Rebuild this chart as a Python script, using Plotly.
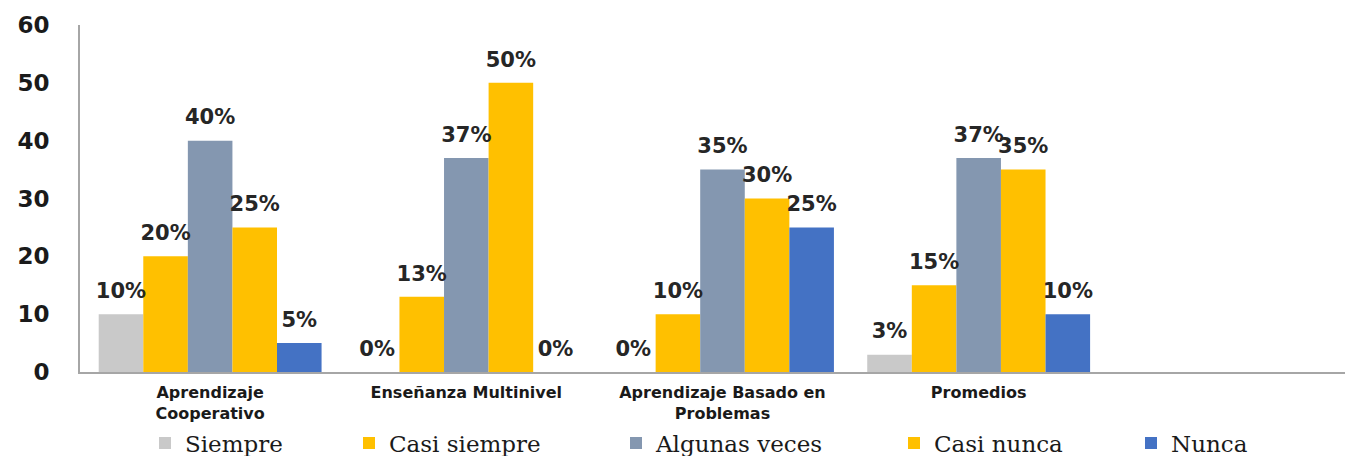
import plotly.graph_objects as go

categories = ["Aprendizaje<br>Cooperativo", "Enseñanza Multinivel",
              "Aprendizaje Basado en<br>Problemas", "Promedios", " "]
series_names = ["Siempre", "Casi siempre", "Algunas veces", "Casi nunca", "Nunca"]
siempre = [10, 0, 0, 3]
casi_siempre = [20, 13, 10, 15]
algunas_veces = [40, 37, 35, 37]
casi_nunca = [25, 50, 30, 35]
nunca = [5, 0, 25, 10]
y_ticks = [0, 10, 20, 30, 40, 50, 60]

colors = ["#c9c9c9", "#ffc000", "#8497b0", "#ffc000", "#4472c4"]
values = [siempre, casi_siempre, algunas_veces, casi_nunca, nunca]
legend_ids = ["legend", "legend2", "legend3", "legend4", "legend5"]
legend_left_px = [137, 341, 608, 886, 1123]

# figure is drawn with an 8px page margin around it
W, H = 1341, 448
L, T = 72, 17
plot_bottom, plot_right = 364, 1337
R, B = W - plot_right, H - plot_bottom
pw = plot_right - L
ph = plot_bottom - T

fig = go.Figure()
for name, vals, col, lid in zip(series_names, values, colors, legend_ids):
    fig.add_trace(go.Bar(
        x=categories[:len(vals)], y=vals, name=name,
        marker=dict(color=col, line=dict(width=0)),
        legend=lid, hoverinfo="skip",
    ))
for name, vals in zip(series_names, values):
    fig.add_trace(go.Scatter(
        x=categories[:len(vals)], y=vals, name=name + " %",
        mode="markers+text", showlegend=False,
        marker=dict(size=16, color="rgba(0,0,0,0)"),
        text=[f"{v}%" for v in vals], textposition="top center",
        textfont=dict(family="DejaVu Sans", size=21, color="#262626", weight="bold"),
        cliponaxis=False,
    ))

layout_legends = {}
for lid, px in zip(legend_ids, legend_left_px):
    layout_legends[lid] = dict(
        x=(px - L) / pw, xanchor="left", y=(plot_bottom - 435) / ph, yanchor="middle",
        orientation="h", font=dict(family="DejaVu Serif", size=23, color="#1a1a1a"),
        bgcolor="rgba(0,0,0,0)", borderwidth=0, itemclick=False,
    )

fig.update_layout(
    width=W, height=H,
    margin=dict(l=L, r=R, t=T, b=B, autoexpand=False),
    paper_bgcolor="white", plot_bgcolor="white",
    barmode="group", bargap=0.13, bargroupgap=0,
    scattermode="group", scattergap=0.13,
    showlegend=True,
    **layout_legends,
)
fig.update_xaxes(
    type="category", categoryorder="array", categoryarray=categories,
    range=[-0.508, 4.43], automargin=False,
    showline=True, linecolor="#a6a6a6", linewidth=2,
    showgrid=False, ticks="", ticklabelstandoff=5,
    tickfont=dict(family="DejaVu Sans", size=16, color="#1a1a1a", weight="bold"),
)
fig.update_yaxes(
    range=[0, 60], tickvals=y_ticks, automargin=False,
    showline=True, linecolor="#a6a6a6", linewidth=2,
    showgrid=False, zeroline=False, ticks="", ticklabelstandoff=24,
    tickfont=dict(family="DejaVu Sans", size=23, color="#1a1a1a", weight="bold"),
)

fig.write_html("out.html")
